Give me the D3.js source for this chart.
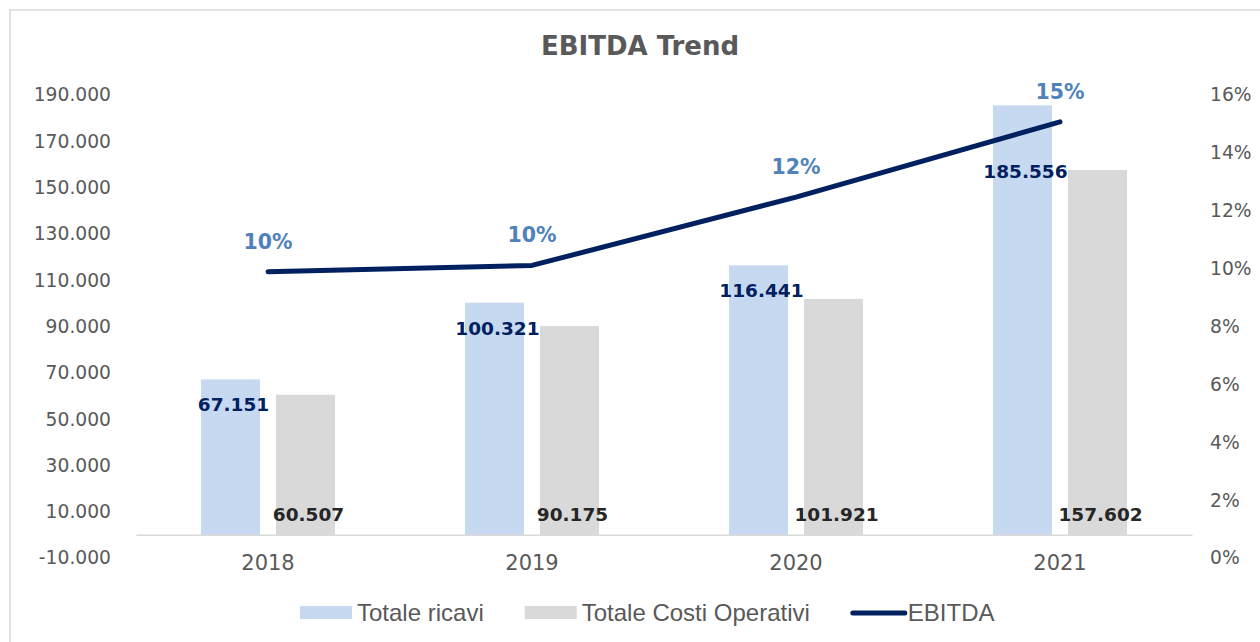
<!DOCTYPE html>
<html lang="it">
<head>
<meta charset="UTF-8">
<title>EBITDA Trend</title>
<script src="https://cdnjs.cloudflare.com/ajax/libs/d3/7.8.5/d3.min.js"></script>
<style>
  body { margin: 0; background: #fff; }
  svg text { font-family: "DejaVu Sans", Verdana, sans-serif; }
</style>
</head>
<body>
<div id="chart"></div>
<script>
// data
var years = ["2018", "2019", "2020", "2021"];
var ricavi = [67151, 100321, 116441, 185556];
var costi = [60507, 90175, 101921, 157602];
var ebitdaPct = [9.89, 10.11, 12.47, 15.07];
var leftTicks = [-10000, 10000, 30000, 50000, 70000, 90000, 110000, 130000, 150000, 170000, 190000];
var rightTicks = [0, 2, 4, 6, 8, 10, 12, 14, 16];
var seriesNames = ["Totale ricavi", "Totale Costi Operativi", "EBITDA"];

var W = 1260, H = 642;
var colRicavi = "#c6d9f0", colCosti = "#d9d9d9", colLine = "#002060";

var it = d3.formatLocale({decimal: ",", thousands: ".", grouping: [3], currency: ["", " €"], minus: "-"});
var fmt = it.format(",d");

var svg = d3.select("#chart").append("svg")
    .attr("width", W)
    .attr("height", H);

// chart frame
svg.append("rect")
    .attr("x", 10).attr("y", 10)
    .attr("width", W).attr("height", H)
    .attr("fill", "#fff")
    .attr("stroke", "#d9d9d9")
    .attr("stroke-width", 1.5);

svg.append("text")
    .attr("x", 640).attr("y", 55)
    .attr("text-anchor", "middle")
    .style("font-size", "26px")
    .style("font-weight", "bold")
    .style("fill", "#595959")
    .text("EBITDA Trend");

var x0 = d3.scaleBand().domain(years).range([136, 1192]);
var bw = x0.bandwidth();
var x1 = d3.scaleBand().domain([0, 1])
    .range([bw * 0.246, bw * 0.754])
    .paddingInner(0.2133);

var yL = d3.scaleLinear().domain([-10000, 190000]).range([558, 95]);
var yR = d3.scaleLinear().domain([0, 16]).range([558, 95]);

// left axis
var axL = svg.append("g")
    .attr("transform", "translate(117,0)")
    .call(d3.axisLeft(yL).tickValues(leftTicks).tickFormat(fmt).tickSize(0).tickPadding(6));
axL.select(".domain").remove();
axL.selectAll("text")
    .style("font-size", "18.7px")
    .style("fill", "#595959")
    .style("font-family", "DejaVu Sans, Verdana, sans-serif");

// right axis
var axR = svg.append("g")
    .attr("transform", "translate(1204,0)")
    .call(d3.axisRight(yR).tickValues(rightTicks).tickFormat(function(d) { return d + "%"; }).tickSize(0).tickPadding(6));
axR.select(".domain").remove();
axR.selectAll("text")
    .style("font-size", "18.7px")
    .style("fill", "#595959")
    .style("font-family", "DejaVu Sans, Verdana, sans-serif");

// bars
var groups = svg.selectAll(".grp")
    .data(years)
    .enter().append("g")
    .attr("class", "grp")
    .attr("transform", function(d) { return "translate(" + x0(d) + ",0)"; });

groups.append("rect")
    .attr("x", x1(0))
    .attr("width", x1.bandwidth())
    .attr("y", function(d, i) { return yL(ricavi[i]); })
    .attr("height", function(d, i) { return yL(0) - yL(ricavi[i]); })
    .attr("fill", colRicavi);

groups.append("rect")
    .attr("x", x1(1))
    .attr("width", x1.bandwidth())
    .attr("y", function(d, i) { return yL(costi[i]); })
    .attr("height", function(d, i) { return yL(0) - yL(costi[i]); })
    .attr("fill", colCosti);

// category axis line + labels
var axX = svg.append("g")
    .attr("transform", "translate(0," + yL(0) + ")")
    .call(d3.axisBottom(x0).tickSize(0).tickPadding(20));
axX.select(".domain").attr("stroke", "#d9d9d9").attr("stroke-width", 1.5);
axX.selectAll("text")
    .style("font-size", "21px")
    .style("fill", "#595959")
    .style("font-family", "DejaVu Sans, Verdana, sans-serif");

// value labels
groups.append("text")
    .attr("x", x1(0) + x1.bandwidth() / 2 + 3)
    .attr("y", function(d, i) { return yL(ricavi[i]) + (i === 3 ? 73 : 32); })
    .attr("text-anchor", "middle")
    .style("font-size", "18.5px")
    .style("font-weight", "bold")
    .style("fill", colLine)
    .text(function(d, i) { return fmt(ricavi[i]); });

groups.append("text")
    .attr("x", x1(1) + x1.bandwidth() / 2 + 3)
    .attr("y", yL(0) - 14)
    .attr("text-anchor", "middle")
    .style("font-size", "18.5px")
    .style("font-weight", "bold")
    .style("fill", "#262626")
    .text(function(d, i) { return fmt(costi[i]); });

// EBITDA line
var line = d3.line()
    .x(function(d, i) { return x0(years[i]) + bw / 2; })
    .y(function(d) { return yR(d); });

svg.append("path")
    .datum(ebitdaPct)
    .attr("d", line)
    .attr("fill", "none")
    .attr("stroke", colLine)
    .attr("stroke-width", 5)
    .attr("stroke-linecap", "round")
    .attr("stroke-linejoin", "round");

svg.selectAll(".pct")
    .data(ebitdaPct)
    .enter().append("text")
    .attr("class", "pct")
    .attr("x", function(d, i) { return x0(years[i]) + bw / 2; })
    .attr("y", function(d) { return yR(d) - 23; })
    .attr("text-anchor", "middle")
    .style("font-size", "20.5px")
    .style("font-weight", "bold")
    .style("fill", "#4f81bd")
    .text(function(d) { return Math.round(d) + "%"; });

// legend
var leg = svg.append("g").attr("transform", "translate(300,613)");
var lx = 0;
seriesNames.forEach(function(name, i) {
    if (i < 2) {
        leg.append("rect")
            .attr("x", lx).attr("y", -7)
            .attr("width", 52).attr("height", 13)
            .attr("fill", i === 0 ? colRicavi : colCosti);
    } else {
        leg.append("line")
            .attr("x1", lx + 2).attr("x2", lx + 54)
            .attr("y1", 0).attr("y2", 0)
            .attr("stroke", colLine)
            .attr("stroke-width", 5)
            .attr("stroke-linecap", "round");
    }
    var t = leg.append("text")
        .attr("x", lx + 57)
        .attr("y", 8)
        .style("font-family", "Liberation Sans, Arial, sans-serif")
        .style("font-size", "24px")
        .style("fill", "#595959")
        .text(name);
    lx += 57 + t.node().getComputedTextLength() + 41;
});
</script>
</body>
</html>
